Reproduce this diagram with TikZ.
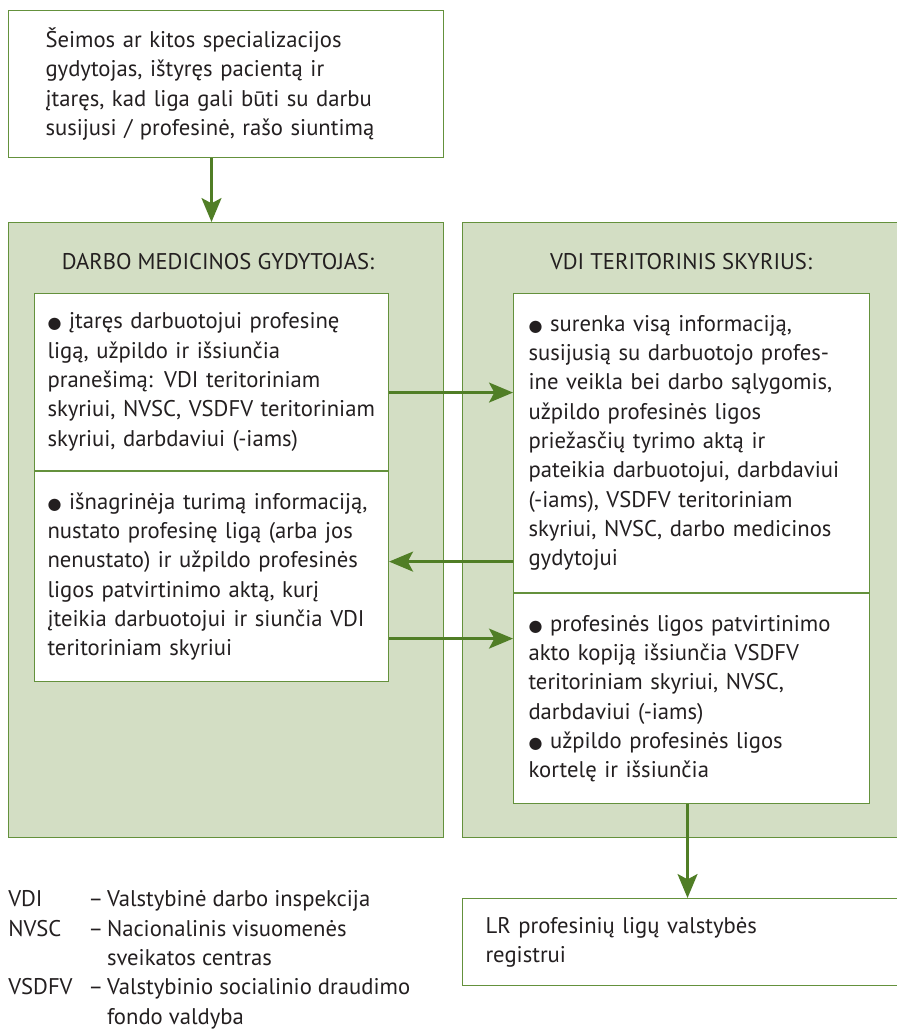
\documentclass[tikz,border=0pt]{standalone}
\usepackage{fontspec}
\setmainfont{PT Sans}
\newfontfamily\symfont{DejaVu Sans}
\usepackage{tikz}
\usetikzlibrary{arrows.meta,positioning}
\definecolor{panelfill}{RGB}{211,222,196}
\definecolor{boxline}{RGB}{100,145,60}
\definecolor{arrowcol}{RGB}{80,126,38}
\definecolor{txtcol}{RGB}{35,31,32}
\newcommand{\txt}{\fontsize{17}{22}\selectfont}
\newcommand{\blt}{{\symfont\fontsize{12}{10}\selectfont ●}\ }

\begin{document}
\begin{tikzpicture}[x=0.75pt, y=-0.75pt,
  panel/.style={draw=boxline, line width=0.9pt, fill=panelfill, anchor=north west,
                minimum width=326.25pt, minimum height=461.25pt, inner sep=0pt},
  box/.style={draw=boxline, line width=0.8pt, fill=white, anchor=north west,
              align=left, font=\txt, text=txtcol},
  ttl/.style={font=\txt, text=txtcol},
  ar/.style={-{Stealth[length=18pt, width=15pt, inset=4pt]}, line width=1.7pt, draw=arrowcol},
]
  \useasboundingbox (0,0) rectangle (896,1031);

  \node[box, text width=270.75pt, inner xsep=27.75pt, minimum height=110.25pt] (top) at (8,10)
    {Šeimos ar kitos specializacijos\\ gydytojas, ištyręs pacientą ir\\
     įtaręs, kad liga gali būti su darbu\\ susijusi / profesinė, rašo siuntimą};

  \node[panel] (lpanel) at (8,222) {};
  \node[panel] (rpanel) at (462,222) {};
  \node[ttl] (ltitle) at (218,262) {DARBO MEDICINOS GYDYTOJAS:};
  \node[ttl] (rtitle) at (681,262) {VDI TERITORINIS SKYRIUS:};

  \node[box, text width=246pt, inner xsep=9.75pt, minimum height=132.75pt] (lbox1) at (34,293)
    {\blt įtaręs darbuotojui profesinę\\ ligą, užpildo ir išsiunčia\\
     pranešimą: VDI teritoriniam\\ skyriui, NVSC, VSDFV teritoriniam\\ skyriui, darbdaviui (-iams)};
  \node[box, text width=246pt, inner xsep=9.75pt, minimum height=157.5pt, below=0pt of lbox1] (lbox2)
    {\blt išnagrinėja turimą informaciją,\\ nustato profesinę ligą (arba jos\\
     nenustato) ir užpildo profesinės\\ ligos patvirtinimo aktą, kurį\\
     įteikia darbuotojui ir siunčia VDI\\ teritoriniam skyriui};

  \node[box, text width=244.5pt, inner xsep=11.25pt, minimum height=224.25pt] (rbox1) at (513,293)
    {\blt surenka visą informaciją,\\ susijusią su darbuotojo profes-\\
     ine veikla bei darbo sąlygomis,\\ užpildo profesinės ligos\\
     priežasčių tyrimo aktą ir\\ pateikia darbuotojui, darbdaviui\\
     (-iams), VSDFV teritoriniam\\ skyriui, NVSC, darbo medicinos\\ gydytojui};
  \node[box, text width=244.5pt, inner xsep=11.25pt, minimum height=157.5pt, below=0pt of rbox1] (rbox2)
    {\blt profesinės ligos patvirtinimo\\ akto kopiją išsiunčia VSDFV\\
     teritoriniam skyriui, NVSC,\\ darbdaviui (-iams)\\
     \blt užpildo profesinės ligos\\ kortelę ir išsiunčia};

  \node[box, text width=291.75pt, inner xsep=17.25pt, minimum height=65.25pt] (lr) at (462,898)
    {LR profesinių ligų valstybės\\ registrui};

  \node[anchor=north west, inner sep=0pt, font=\txt, text=txtcol] (legend) at (8,886)
    {\begin{tabular}{@{}p{60pt}@{}l@{\,}l@{}}
     VDI   & -- & Valstybinė darbo inspekcija\\
     NVSC  & -- & Nacionalinis visuomenės\\
           &    & sveikatos centras\\
     VSDFV & -- & Valstybinio socialinio draudimo\\
           &    & fondo valdyba
     \end{tabular}};

  \coordinate (a0) at ([xshift=-10.9pt]top.south);
  \coordinate (a1) at ([yshift=-7.9pt]lbox1.east);
  \coordinate (a2) at ([yshift=11.25pt]lbox2.east);
  \coordinate (a3) at ([yshift=-46.5pt]lbox2.east);
  \coordinate (a4) at ([xshift=-3pt]rbox2.south);

  \draw[ar] (a0) -- (a0 |- lpanel.north);
  \draw[ar] (a1) -- (a1 -| rbox1.west);
  \draw[ar] (a2 -| rbox1.west) -- (a2);
  \draw[ar] (a3) -- (a3 -| rbox2.west);
  \draw[ar] (a4) -- (a4 |- lr.north);
\end{tikzpicture}
\end{document}
